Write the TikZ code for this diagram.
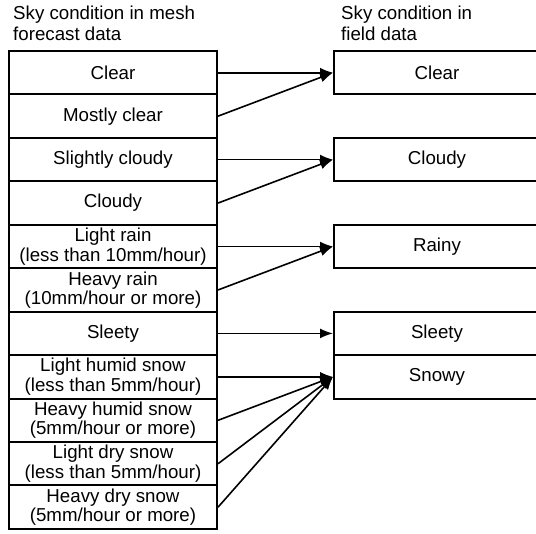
\documentclass[tikz,border=0pt]{standalone}
\usepackage{fontspec}
\setmainfont{Liberation Sans}
\usetikzlibrary{arrows.meta}
\begin{document}
\begin{tikzpicture}[x=1pt,y=-1pt,
  cell/.style={draw, line width=2pt, minimum width=208pt, minimum height=43.45pt, inner sep=0pt, anchor=north west, align=center, font=\fontsize{18.7}{19.5}\selectfont},
  rcell/.style={cell, minimum width=206pt},
  hdr/.style={anchor=north west, inner sep=0pt, align=left, font=\fontsize{18.7}{20.5}\selectfont},
  conn/.style={line width=1.6pt, -{Latex[length=13pt,width=10pt]}}]
\useasboundingbox (0,0) rectangle (536,534);
\fill[white] (0,0) rectangle (536,534);
\node[hdr] (h1) at (13,6) {Sky condition in mesh\\forecast data};
\node[hdr] (h2) at (341,6) {Sky condition in\\field data};
\def\rh{43.45}
\node[cell] (L1)  at (8,{50+0*\rh}) {Clear};
\node[cell] (L2)  at (8,{50+1*\rh}) {Mostly clear};
\node[cell] (L3)  at (8,{50+2*\rh}) {Slightly cloudy};
\node[cell] (L4)  at (8,{50+3*\rh}) {Cloudy};
\node[cell] (L5)  at (8,{50+4*\rh}) {Light rain\\(less than 10mm/hour)};
\node[cell] (L6)  at (8,{50+5*\rh}) {Heavy rain\\(10mm/hour or more)};
\node[cell] (L7)  at (8,{50+6*\rh}) {Sleety};
\node[cell] (L8)  at (8,{50+7*\rh}) {Light humid snow\\(less than 5mm/hour)};
\node[cell] (L9)  at (8,{50+8*\rh}) {Heavy humid snow\\(5mm/hour or more)};
\node[cell] (L10) at (8,{50+9*\rh}) {Light dry snow\\(less than 5mm/hour)};
\node[cell] (L11) at (8,{50+10*\rh}) {Heavy dry snow\\(5mm/hour or more)};
\node[rcell] (R1) at (333,{50+0*\rh}) {Clear};
\node[rcell] (R2) at (333,{50+2*\rh}) {Cloudy};
\node[rcell] (R3) at (333,{50+4*\rh}) {Rainy};
\node[rcell] (R4) at (333,{50+6*\rh}) {Sleety};
\node[rcell] (R5) at (333,{50+7*\rh}) {Snowy};
\draw[conn] (L1.east) -- (R1.west);
\draw[conn] (L2.east) -- (R1.west);
\draw[conn] (L3.east) -- (R2.west);
\draw[conn] (L4.east) -- (R2.west);
\draw[conn] (L5.east) -- (R3.west);
\draw[conn] (L6.east) -- (R3.west);
\draw[conn] (L7.east) -- (R4.west);
\draw[conn] (L8.east) -- (R5.west);
\draw[conn] (L9.east) -- (R5.west);
\draw[conn] (L10.east) -- (R5.west);
\draw[conn] (L11.east) -- (R5.west);
\end{tikzpicture}
\end{document}
